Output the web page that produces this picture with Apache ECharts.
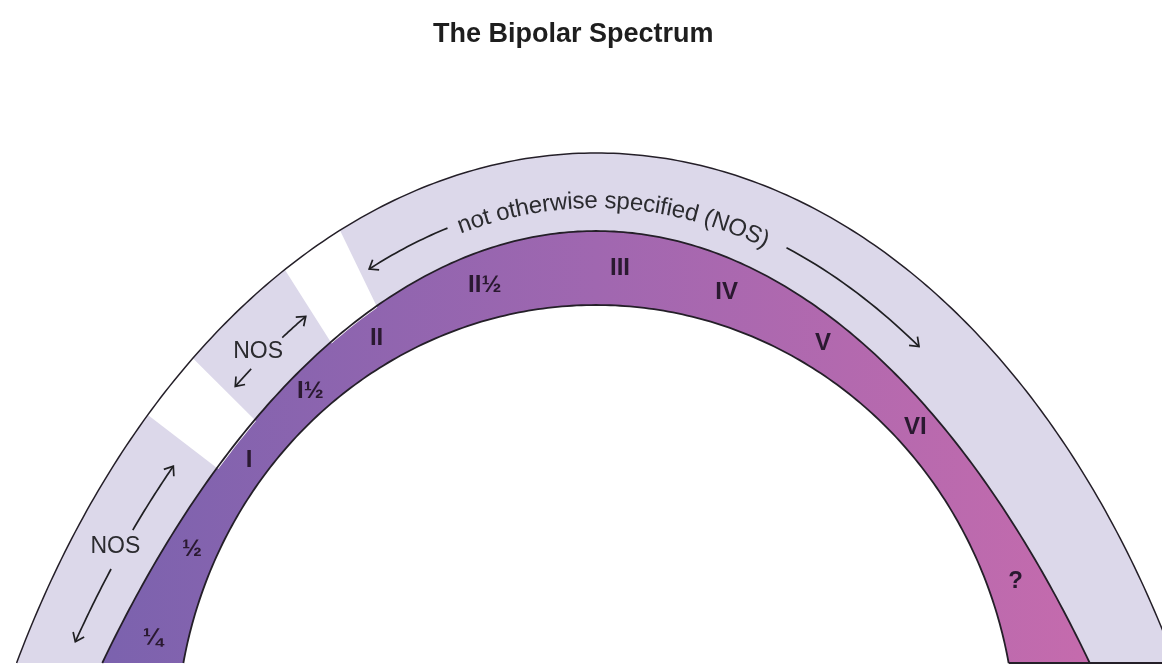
<!DOCTYPE html>
<html>
<head>
<meta charset="utf-8">
<title>The Bipolar Spectrum</title>
<script src="https://cdn.jsdelivr.net/npm/echarts@6/dist/echarts.min.js"></script>
<style>
  html, body { margin: 0; padding: 0; background: #fff; }
  #chart { width: 1162px; height: 665px; }
</style>
</head>
<body>
<div id="chart"></div>
<script>
// subtypes, and where each sits along the arch (degrees from the top, seen from the hub)
const subtypes = ['¼', '½', 'I', 'I½', 'II', 'II½', 'III', 'IV', 'V', 'VI', '?'];
const subtypeAngle = [-74.6, -62.5, -49.2, -37.8, -27.5, -13.2, 2.8, 15.6, 28.6, 43.8, 66.9];

// NOS labels in the outer band
const nosLabels = ['NOS', 'NOS'];
const nosAngle = [-66.1, -39.6];

// white breaks between the NOS stretches of the outer band [from, to]
const nosGaps = [[-52.4, -45.1], [-32.4, -25.8]];

// arrows in the outer band [tail, head]
const nosArrows = [[-63.6, -55.2], [-68.5, -77.2], [-36.6, -33.2], [-41.4, -44.0], [-15.6, -24.8], [20.4, 38.0]];

// curved caption along the top of the outer band
const archCaption = 'not otherwise specified (NOS)';
const archCaptionAngle = 1.9;

// ---- arch geometry (diagram units = axis units) ----
const CX = 596, FOOT = 663, HUB = [596, 760];
const curves = {
  outer: { top: 153, a: 666, b: 1006 },
  middle: { top: 231, a: 708, b: 1525 },
  inner: { top: 305, a: 420, b: 440 }
};
const LIGHT = '#dcd8ea';
const LINE = '#241f28';
const FONT = '"Liberation Sans", Arial, sans-serif';

function curveY(c, x) {
  const u = (x - CX) / c.a;
  if (Math.abs(u) >= 1) return Infinity;
  return c.top + c.b * (1 - Math.sqrt(1 - u * u));
}

function curvePoints(c, n) {
  n = n || 240;
  const phiF = Math.acos(1 - (FOOT - c.top) / c.b);
  const pts = [];
  for (let i = 0; i <= n; i++) {
    const phi = -phiF + 2 * phiF * i / n;
    pts.push([CX + c.a * Math.sin(phi), c.top + c.b * (1 - Math.cos(phi))]);
  }
  return pts;
}

// distance from the hub to a curve along the ray at deg
function rayHit(c, deg) {
  const t = deg * Math.PI / 180, dx = Math.sin(t), dy = -Math.cos(t);
  let lo = 0, hi = 1400;
  for (let k = 0; k < 40; k++) {
    const m = (lo + hi) / 2;
    const x = HUB[0] + dx * m, y = HUB[1] + dy * m;
    if (y > curveY(c, x)) lo = m; else hi = m;
  }
  return lo;
}

// point at fraction f between curve c0 (f=0) and c1 (f=1) on the ray at deg
function bandPoint(deg, f, c0, c1) {
  const t = deg * Math.PI / 180;
  const r0 = rayHit(c0, deg), r1 = rayHit(c1, deg);
  const r = r0 + f * (r1 - r0);
  return [HUB[0] + Math.sin(t) * r, HUB[1] - Math.cos(t) * r];
}

function arrowHead(pts, len, spread) {
  const p = pts[pts.length - 1], q = pts[pts.length - 3];
  const ang = Math.atan2(q[1] - p[1], q[0] - p[0]);
  return [
    [p[0] + len * Math.cos(ang + spread), p[1] + len * Math.sin(ang + spread)],
    p,
    [p[0] + len * Math.cos(ang - spread), p[1] + len * Math.sin(ang - spread)]
  ];
}

const chart = echarts.init(document.getElementById('chart'));

const option = {
  animation: false,
  backgroundColor: '#fff',
  title: {
    text: 'The Bipolar Spectrum',
    left: 428,
    top: 16,
    textStyle: { fontFamily: FONT, fontSize: 27, fontWeight: 'bold', color: '#1e1e1e' }
  },
  grid: { left: 0, right: 0, top: 0, bottom: 0 },
  xAxis: { type: 'value', min: 0, max: 1162, show: false },
  yAxis: { type: 'value', min: 0, max: 665, inverse: true, show: false },
  series: [
    {
      // band fills
      type: 'custom', silent: true, z: 1,
      data: [[CX, FOOT]],
      renderItem: function (params, api) {
        const outer = curvePoints(curves.outer).map(p => api.coord(p));
        const middle = curvePoints(curves.middle).map(p => api.coord(p));
        const inner = curvePoints(curves.inner).map(p => api.coord(p));
        return {
          type: 'group',
          children: [
            { type: 'polygon', shape: { points: outer.concat(middle.slice().reverse()) }, style: { fill: LIGHT } },
            {
              type: 'polygon',
              shape: { points: middle.concat(inner.slice().reverse()) },
              style: {
                fill: new echarts.graphic.LinearGradient(0, 0, 1, 0, [
                  { offset: 0, color: '#7b62ae' },
                  { offset: 0.5, color: '#a067b0' },
                  { offset: 1, color: '#c56bad' }
                ])
              }
            }
          ]
        };
      }
    },
    {
      // white breaks in the NOS band
      type: 'custom', silent: true, z: 2,
      data: nosGaps,
      renderItem: function (params, api) {
        const from = api.value(0), to = api.value(1);
        const a = [], b = [];
        for (let k = 0; k <= 12; k++) {
          const d = from + (to - from) * k / 12;
          a.push(api.coord(bandPoint(d, -0.02, curves.middle, curves.outer)));
          b.push(api.coord(bandPoint(d, 1.06, curves.middle, curves.outer)));
        }
        return { type: 'polygon', shape: { points: a.concat(b.reverse()) }, style: { fill: '#fff' } };
      }
    },
    {
      // outlines
      type: 'custom', silent: true, z: 3,
      data: [[CX, FOOT]],
      renderItem: function (params, api) {
        const outer = curvePoints(curves.outer).map(p => api.coord(p));
        const middle = curvePoints(curves.middle).map(p => api.coord(p));
        const inner = curvePoints(curves.inner).map(p => api.coord(p));
        const base = [inner[inner.length - 1], outer[outer.length - 1]];
        return {
          type: 'group',
          children: [
            { type: 'polyline', shape: { points: outer }, style: { stroke: LINE, lineWidth: 1.5, fill: 'none' } },
            { type: 'polyline', shape: { points: middle }, style: { stroke: LINE, lineWidth: 1.8, fill: 'none' } },
            { type: 'polyline', shape: { points: inner }, style: { stroke: LINE, lineWidth: 1.8, fill: 'none' } },
            { type: 'polyline', shape: { points: base }, style: { stroke: LINE, lineWidth: 2, fill: 'none' } }
          ]
        };
      }
    },
    {
      // subtype labels in the purple band
      type: 'custom', silent: true, z: 4,
      data: subtypeAngle.map((a, i) => [a, i]),
      renderItem: function (params, api) {
        const p = api.coord(bandPoint(api.value(0), 0.5, curves.inner, curves.middle));
        return {
          type: 'text', x: p[0], y: p[1],
          style: {
            text: subtypes[params.dataIndex], fill: '#2a1930',
            fontFamily: FONT, fontSize: 24, fontWeight: 'bold',
            align: 'center', verticalAlign: 'middle'
          }
        };
      }
    },
    {
      // NOS labels
      type: 'custom', silent: true, z: 4,
      data: nosAngle.map((a, i) => [a, i]),
      renderItem: function (params, api) {
        const p = api.coord(bandPoint(api.value(0), 0.5, curves.middle, curves.outer));
        return {
          type: 'text', x: p[0], y: p[1],
          style: {
            text: nosLabels[params.dataIndex], fill: '#2b2b2f',
            fontFamily: FONT, fontSize: 23,
            align: 'center', verticalAlign: 'middle'
          }
        };
      }
    },
    {
      // arrows
      type: 'custom', silent: true, z: 4,
      data: nosArrows,
      renderItem: function (params, api) {
        const from = api.value(0), to = api.value(1);
        const pts = [];
        for (let k = 0; k <= 20; k++) {
          pts.push(api.coord(bandPoint(from + (to - from) * k / 20, 0.42, curves.middle, curves.outer)));
        }
        const st = { stroke: '#1f1f22', lineWidth: 1.7, fill: 'none' };
        return {
          type: 'group',
          children: [
            { type: 'polyline', shape: { points: pts }, style: st },
            { type: 'polyline', shape: { points: arrowHead(pts, 10, 0.65) }, style: st }
          ]
        };
      }
    },
    {
      // curved caption
      type: 'custom', silent: true, z: 4,
      data: [[archCaptionAngle, 0]],
      renderItem: function (params, api) {
        const size = 24;
        const ctx = document.createElement('canvas').getContext('2d');
        ctx.font = size + 'px ' + FONT;
        const step = 0.2, d0 = -40;
        const path = [];
        for (let d = d0; d <= 60; d += step) {
          path.push(api.coord(bandPoint(d, 0.38, curves.middle, curves.outer)));
        }
        const cum = [0];
        for (let i = 1; i < path.length; i++) {
          cum.push(cum[i - 1] + Math.hypot(path[i][0] - path[i - 1][0], path[i][1] - path[i - 1][1]));
        }
        const ci = (api.value(0) - d0) / step;
        const i0 = Math.floor(ci);
        const sc = cum[i0] + (cum[i0 + 1] - cum[i0]) * (ci - i0);
        const chars = archCaption.split('');
        const widths = chars.map(ch => ctx.measureText(ch).width);
        const total = widths.reduce((s, w) => s + w, 0);
        let s = sc - total / 2;
        const children = [];
        chars.forEach(function (ch, k) {
          const sm = s + widths[k] / 2;
          s += widths[k];
          let j = 1;
          while (j < cum.length - 1 && cum[j] < sm) j++;
          const t = (sm - cum[j - 1]) / (cum[j] - cum[j - 1]);
          const a = path[j - 1], b = path[j];
          const x = a[0] + (b[0] - a[0]) * t, y = a[1] + (b[1] - a[1]) * t;
          const rot = -Math.atan2(b[1] - a[1], b[0] - a[0]);
          children.push({
            type: 'text', x: x, y: y, rotation: rot,
            style: {
              text: ch, fill: '#2b2b2f', fontFamily: FONT, fontSize: size,
              align: 'center', verticalAlign: 'middle'
            }
          });
        });
        return { type: 'group', children: children };
      }
    }
  ]
};

chart.setOption(option);
</script>
</body>
</html>
